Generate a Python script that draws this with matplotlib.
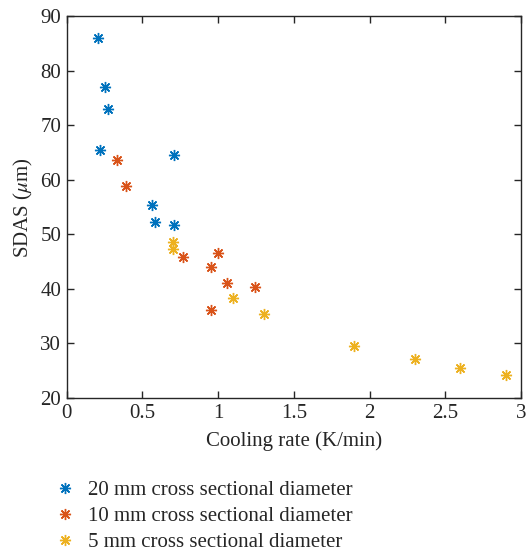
import matplotlib
matplotlib.use('Agg')
import matplotlib.pyplot as plt

# Datos: velocidad de enfriamiento (K/min) vs SDAS (um)
x_20mm = [0.205, 0.25, 0.27, 0.22, 0.71, 0.565, 0.58, 0.705]
y_20mm = [86.0, 77.0, 73.0, 65.5, 64.6, 55.4, 52.3, 51.7]

x_10mm = [0.33, 0.39, 0.77, 1.0, 0.95, 1.055, 1.24, 0.95]
y_10mm = [63.6, 58.8, 45.8, 46.5, 44.1, 41.1, 40.4, 36.2]

x_5mm = [0.70, 0.70, 1.10, 1.30, 1.90, 2.30, 2.60, 2.90]
y_5mm = [48.6, 47.3, 38.4, 35.4, 29.5, 27.1, 25.5, 24.3]

etiquetas = ['20 mm cross sectional diameter',
             '10 mm cross sectional diameter',
             '5 mm cross sectional diameter']
cores = ['#0072BD', '#D95319', '#EDB120']

plt.rcParams['font.family'] = ['Liberation Serif', 'DejaVu Serif']
plt.rcParams['mathtext.fontset'] = 'stix'

fig = plt.figure(figsize=(5.3, 5.54), dpi=100)
ax = fig.add_axes([0.126, 0.2816, 0.857, 0.689])

asterisco = (8, 2, 0)
series = [(x_20mm, y_20mm), (x_10mm, y_10mm), (x_5mm, y_5mm)]
for (xs, ys), cor, rotulo in zip(series, cores, etiquetas):
    ax.plot(xs, ys, linestyle='none', marker=asterisco, markersize=8,
            markeredgewidth=1.0, color=cor, label=rotulo)

ax.set_xlim(0, 3)
ax.set_ylim(20, 90)
ax.set_xticks([0, 0.5, 1, 1.5, 2, 2.5, 3])
ax.set_xticklabels(['0', '0.5', '1', '1.5', '2', '2.5', '3'])
ax.set_yticks(range(20, 91, 10))
ax.tick_params(direction='in', top=True, right=True, length=5, width=1,
               labelsize=15, colors='#262626', pad=4)
for s in ax.spines.values():
    s.set_color('#262626')
    s.set_linewidth(1.0)

ax.set_xlabel('Cooling rate (K/min)', fontsize=15, color='#262626', labelpad=6)
ax.set_ylabel(r'SDAS ($\mu$m)', fontsize=15, color='#262626', labelpad=4)

fig.legend(loc='upper left', bbox_to_anchor=(0.088, 0.147), frameon=False,
           fontsize=15, handlelength=1.0, handletextpad=0.6, labelspacing=0.3,
           borderaxespad=0, labelcolor='#262626')

fig.savefig('out.png', dpi=100)
